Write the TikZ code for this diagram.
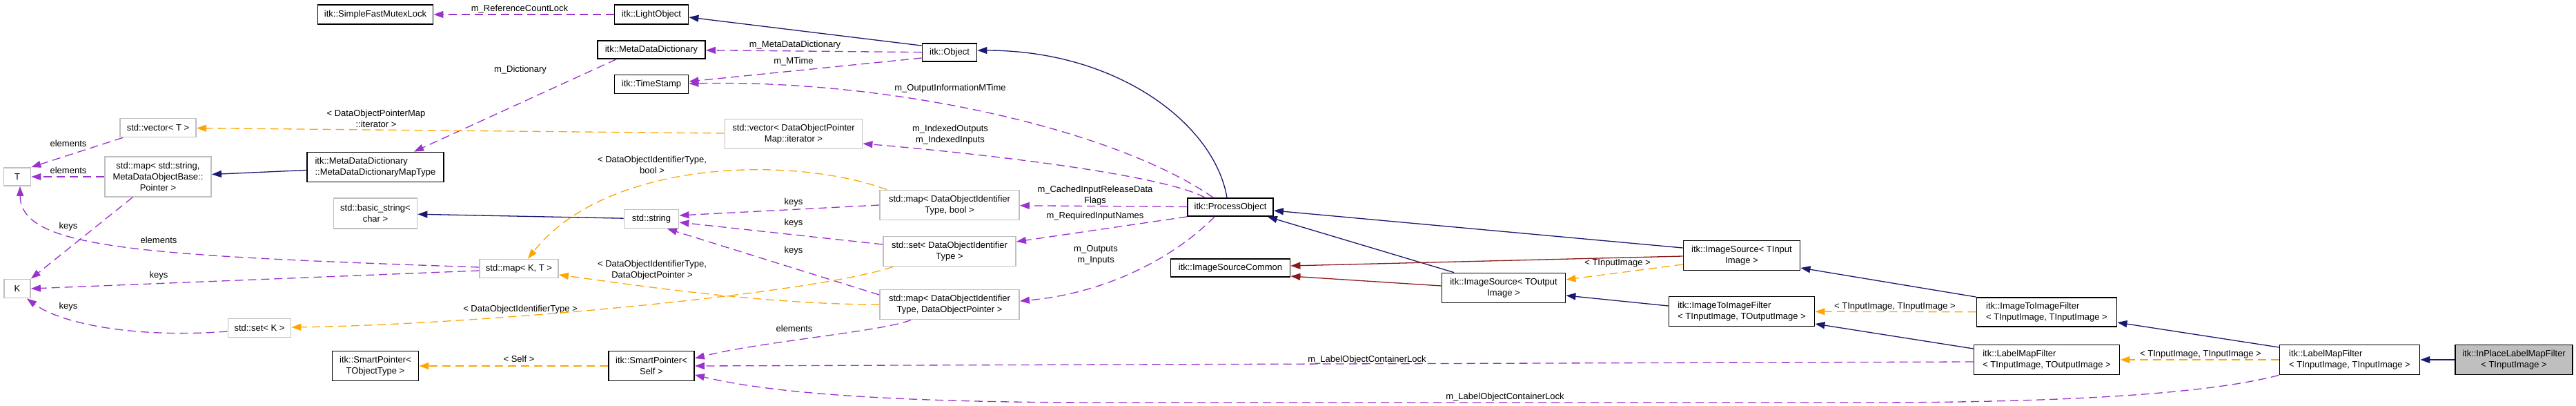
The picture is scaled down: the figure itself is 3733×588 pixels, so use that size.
\documentclass[tikz,border=0pt]{standalone}
\usepackage{fontspec}
\setmainfont{Liberation Sans}
\usetikzlibrary{arrows.meta}
\definecolor{inhblue}{HTML}{191970}
\definecolor{privred}{HTML}{8B1A1A}
\definecolor{useorchid}{HTML}{9A32CD}
\definecolor{tplorange}{HTML}{FFA500}
\definecolor{extgray}{HTML}{BFBFBF}
\begin{document}
\begin{tikzpicture}[x=1pt, y=-1pt,
    itk node/.style={rectangle, draw=black, line width=1.8pt, fill=white, inner sep=2pt, font=\fontsize{13}{16}\selectfont, align=center},
    std node/.style={itk node, draw=extgray},
    left node/.style={itk node, align=left},
    box/.style 2 args={minimum width=#1pt, minimum height=#2pt},
    lbl/.style={inner sep=0pt, font=\fontsize{13}{16}\selectfont, align=center},
    link/.style={line width=1.3pt, -{Triangle[length=14pt, width=10pt]}},
    inherit/.style={link, color=inhblue},
    privinherit/.style={link, color=privred},
    member/.style={link, color=useorchid, dash pattern=on 12pt off 7pt},
    templ/.style={link, color=tplorange, dash pattern=on 12pt off 7pt}]
    \path[use as bounding box, fill=white] (0,0) rectangle (3733,588);

    % les classes
    \node[itk node, box={167}{28}] (mutex) at (544,21) {itk::SimpleFastMutexLock};
    \node[itk node, box={107}{28}] (light) at (944,21) {itk::LightObject};
    \node[itk node, box={156}{26}] (mdd) at (944,72) {itk::MetaDataDictionary};
    \node[itk node, box={107}{27}] (stamp) at (944,122) {itk::TimeStamp};
    \node[itk node, box={79}{26}] (object) at (1376,76) {itk::Object};
    \node[std node, box={110}{27}] (vecT) at (229,185) {std::vector< T >};
    \node[std node, box={199}{43}] (vecIt) at (1150,194) {std::vector< DataObjectPointer\\Map::iterator >};
    \node[left node, box={198}{43}] (mdtype) at (544,242) {itk::MetaDataDictionary\\::MetaDataDictionaryMapType};
    \node[std node, box={39}{26}] (tpar) at (25,256) {T};
    \node[std node, box={154}{58}] (mapStr) at (229,256) {std::map< std::string,\\MetaDataObjectBase::\\Pointer >};
    \node[std node, box={121}{44}] (basicStr) at (544,309) {std::basic\_string<\\char >};
    \node[std node, box={79}{27}] (string) at (944,317) {std::string};
    \node[std node, box={202}{43}] (mapBool) at (1376,297) {std::map< DataObjectIdentifier\\Type, bool >};
    \node[itk node, box={124}{26}] (process) at (1783,300) {itk::ProcessObject};
    \node[std node, box={192}{43}] (setId) at (1376,364) {std::set< DataObjectIdentifier\\Type >};
    \node[itk node, box={173}{26}] (common) at (1783,388) {itk::ImageSourceCommon};
    \node[std node, box={114}{27}] (mapKT) at (752,389) {std::map< K, T >};
    \node[std node, box={38}{27}] (kpar) at (25,418) {K};
    \node[std node, box={202}{43}] (mapPtr) at (1376,441) {std::map< DataObjectIdentifier\\Type, DataObjectPointer >};
    \node[std node, box={91}{27}] (setK) at (376,475) {std::set< K >};
    \node[itk node, box={125}{43}] (spObj) at (544,530) {itk::SmartPointer<\\TObjectType >};
    \node[itk node, box={124}{43}] (spSelf) at (944,530) {itk::SmartPointer<\\Self >};
    \node[itk node, box={169}{43}] (srcIn) at (2524,370) {itk::ImageSource< TInput\\Image >};
    \node[itk node, box={179}{43}] (srcOut) at (2179,417) {itk::ImageSource< TOutput\\Image >};
    \node[left node, box={211}{43}] (itifOut) at (2524,451) {itk::ImageToImageFilter\\< TInputImage, TOutputImage >};
    \node[left node, box={203}{42}] (itifIn) at (2966,452) {itk::ImageToImageFilter\\< TInputImage, TInputImage >};
    \node[left node, box={211}{43}] (lmfOut) at (2966,521) {itk::LabelMapFilter\\< TInputImage, TOutputImage >};
    \node[left node, box={203}{43}] (lmfIn) at (3405,521) {itk::LabelMapFilter\\< TInputImage, TInputImage >};
    \node[itk node, box={170}{43}, fill=extgray] (inplace) at (3643,521) {itk::InPlaceLabelMapFilter\\< TInputImage >};

    % etiquettes
    \node[lbl] (lbRef) at (753,13) {m\_ReferenceCountLock};
    \node[lbl] (lbMdd) at (1152,65) {m\_MetaDataDictionary};
    \node[lbl] (lbMTime) at (1150,89) {m\_MTime};
    \node[lbl] (lbDict) at (754,101) {m\_Dictionary};
    \node[lbl] (lbOutInfo) at (1377,128) {m\_OutputInformationMTime};
    \node[lbl] (lbIterMap) at (545,172) {< DataObjectPointerMap\\::iterator >};
    \node[lbl] (lbIdx) at (1377,195) {m\_IndexedOutputs\\m\_IndexedInputs};
    \node[lbl] (lbElemVec) at (99,208) {elements};
    \node[lbl] (lbBool) at (945,239) {< DataObjectIdentifierType,\\bool >};
    \node[lbl] (lbElemMap) at (99,247) {elements};
    \node[lbl] (lbCached) at (1587,283) {m\_CachedInputReleaseData\\Flags};
    \node[lbl] (lbKeysBool) at (1150,293) {keys};
    \node[lbl] (lbKeysSet) at (1150,323) {keys};
    \node[lbl] (lbRequired) at (1587,313) {m\_RequiredInputNames};
    \node[lbl] (lbKeysStr) at (99,328) {keys};
    \node[lbl] (lbElemKT) at (230,348) {elements};
    \node[lbl] (lbKeysPtr) at (1150,363) {keys};
    \node[lbl] (lbOutIn) at (1588,369) {m\_Outputs\\m\_Inputs};
    \node[lbl] (lbInput) at (2344,381) {< TInputImage >};
    \node[lbl] (lbPtr) at (945,391) {< DataObjectIdentifierType,\\DataObjectPointer >};
    \node[lbl] (lbKeysKT) at (230,399) {keys};
    \node[lbl] (lbKeysK) at (99,444) {keys};
    \node[lbl] (lbId) at (754,448) {< DataObjectIdentifierType >};
    \node[lbl] (lbInIn) at (2746,444) {< TInputImage, TInputImage >};
    \node[lbl] (lbElemPtr) at (1151,476) {elements};
    \node[lbl] (lbInInLmf) at (3189,513) {< TInputImage, TInputImage >};
    \node[lbl] (lbSelf) at (752,520) {< Self >};
    \node[lbl] (lbLockOut) at (1981,521) {m\_LabelObjectContainerLock};
    \node[lbl] (lbLockIn) at (2181,575) {m\_LabelObjectContainerLock};

    % heritage
    \draw[inherit] ([yshift=-4pt]object.north west) -- ([yshift=-4pt]light.east);
    \draw[inherit] ([xshift=-5pt]process.north) .. controls (1760,180) and (1620,73) .. ([yshift=3pt]object.east);
    \draw[inherit] (mdtype) -- (mapStr);
    \draw[inherit] (string) -- (basicStr);
    \draw[inherit] ([yshift=11pt]srcIn.west) -- ([yshift=-5pt]process.east);
    \draw[inherit] ([xshift=-72pt]srcOut.north) -- ([xshift=-9pt]process.south east);
    \draw[privinherit] ([yshift=-1pt]srcIn.west) -- ([yshift=3pt]common.east);
    \draw[privinherit] ([yshift=3pt]srcOut.west) -- ([yshift=-12pt]common.east);
    \draw[inherit] ([yshift=8pt]itifOut.west) -- ([yshift=-11pt]srcOut.east);
    \draw[inherit] (itifIn.north west) -- ([yshift=-18pt]srcIn.east);
    \draw[inherit] ([yshift=16pt]lmfOut.west) -- ([yshift=-18pt]itifOut.east);
    \draw[inherit] ([yshift=18pt]lmfIn.west) -- ([yshift=-15pt]itifIn.east);
    \draw[inherit] (inplace) -- (lmfIn);

    % membres
    \draw[member] (light) -- (mutex);
    \draw[member] (object) -- (mdd);
    \draw[member] ([yshift=-8pt]object.west) -- ([yshift=4pt]stamp.east);
    \draw[member] ([xshift=-25pt]process.north) .. controls (1620,190) and (1300,115) .. ([yshift=1pt]stamp.east);
    \draw[member] ([xshift=-37pt]process.north) .. controls (1690,255) and (1450,225) .. ([yshift=-14pt]vecIt.east);
    \draw[member] ([xshift=-51pt]mdd.south) -- ([xshift=56pt]mdtype.north);
    \draw[member] ([xshift=-51pt]vecT.south) -- (tpar.north east);
    \draw[member] (mapStr) -- (tpar);
    \draw[member] ([yshift=2pt]mapKT.west) .. controls (200,370) and (30,360) .. ([xshift=4pt]tpar.south);
    \draw[member] ([yshift=-3pt]mapKT.west) -- (kpar.east);
    \draw[member] ([xshift=-37pt]mapStr.south) -- (kpar.north east);
    \draw[member] ([yshift=-5pt]setK.west) .. controls (200,490) and (90,470) .. ([xshift=14pt]kpar.south);
    \draw[member] (mapBool.west) -- ([yshift=5pt]string.east);
    \draw[member] ([yshift=10pt]setId.west) -- ([yshift=-5pt]string.east);
    \draw[member] ([yshift=14pt]mapPtr.west) -- ([xshift=23pt]string.south);
    \draw[member] (process) -- (mapBool);
    \draw[member] (process.south west) -- ([yshift=14pt]setId.east);
    \draw[member] ([xshift=-23pt]process.south) .. controls (1700,375) and (1600,425) .. ([yshift=5pt]mapPtr.east);
    \draw[member] ([xshift=-56pt]mapPtr.south) .. controls (1280,480) and (1100,495) .. ([yshift=11pt]spSelf.east);
    \draw[member] ([yshift=-3pt]lmfOut.west) -- (spSelf.east);
    \draw[member] (lmfIn.south west) .. controls (3200,570) and (3000,583) .. (2700,583)
        -- (1600,583) .. controls (1250,583) and (1100,565) .. ([yshift=-13pt]spSelf.east);

    % instances de gabarits
    \draw[templ] (vecIt) -- (vecT);
    \draw[templ] ([xshift=-82pt]setId.south) .. controls (1180,425) and (700,470) .. ([yshift=1pt]setK.east);
    \draw[templ] ([xshift=-91pt]mapBool.north) .. controls (1150,225) and (880,230) .. ([xshift=13pt]mapKT.north);
    \draw[templ] (mapPtr.west) .. controls (1100,441) and (900,410) .. ([yshift=-9pt]mapKT.east);
    \draw[templ] (spSelf) -- (spObj);
    \draw[templ] ([yshift=-13pt]srcIn.west) -- ([yshift=12pt]srcOut.east);
    \draw[templ] (itifIn) -- (itifOut);
    \draw[templ] (lmfIn) -- (lmfOut);
\end{tikzpicture}
\end{document}
